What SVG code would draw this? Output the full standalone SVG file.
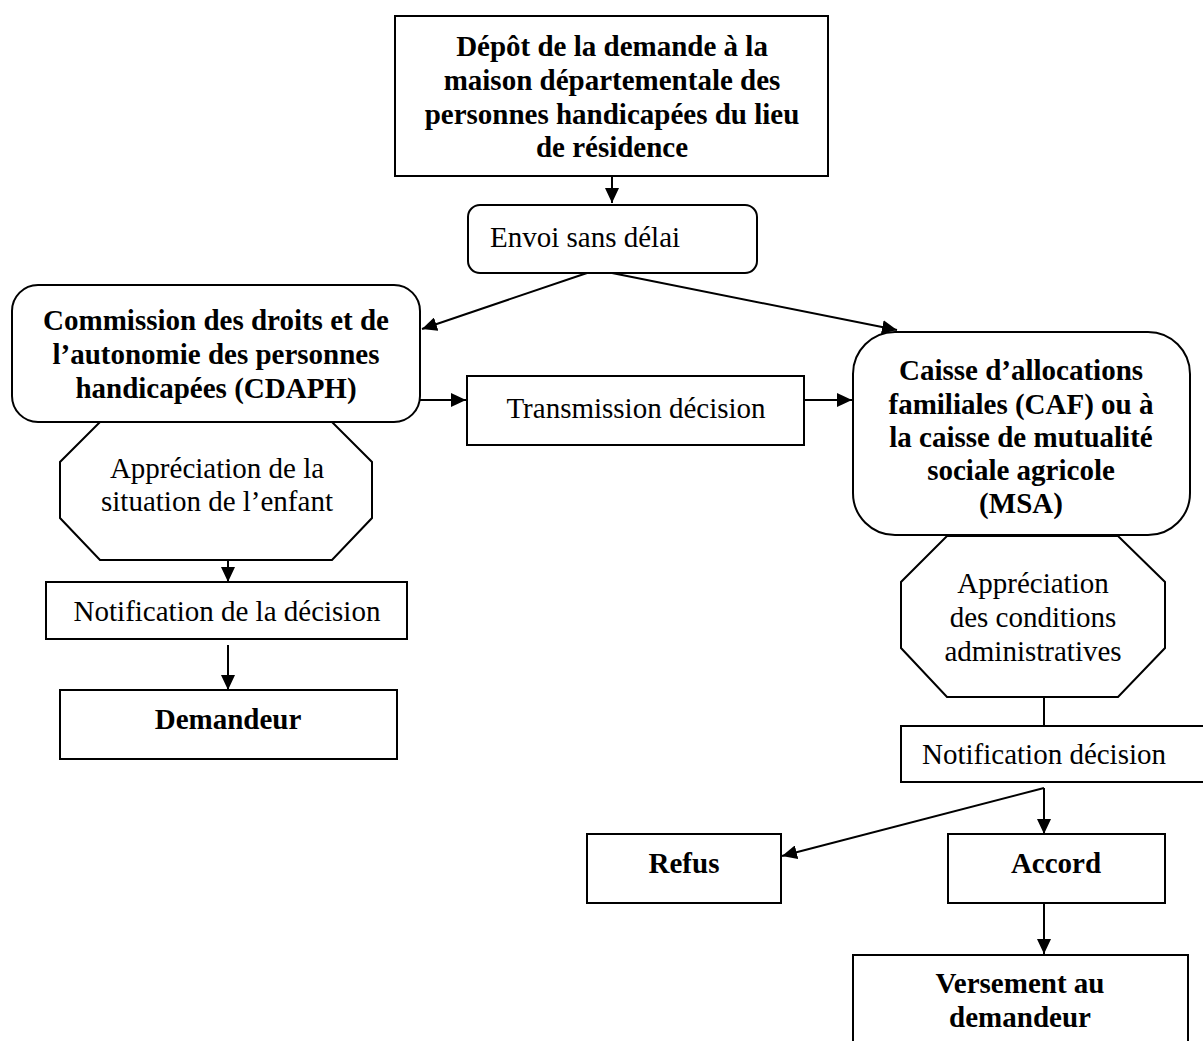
<svg xmlns="http://www.w3.org/2000/svg" width="1203" height="1041" viewBox="0 0 1203 1041">
<style>
.box{fill:#fff;stroke:#000;stroke-width:2}
.t{font-family:"Liberation Serif","Times New Roman",serif;font-size:29px;fill:#000;text-anchor:middle}
.b{font-weight:bold;font-size:29px}
.c{fill:none;stroke:#000;stroke-width:2}
</style>
<defs>
<marker id="ah" markerUnits="userSpaceOnUse" markerWidth="16" markerHeight="14" refX="15" refY="7" orient="auto">
<path d="M0,0 L15,7 L0,14 Z" fill="#000"/>
</marker>
</defs>
<rect width="1203" height="1041" fill="#fff"/>
<g id="connectors">
<line class="c" x1="612" y1="176" x2="612" y2="203" marker-end="url(#ah)"/>
<line class="c" x1="587" y1="273" x2="422" y2="329" marker-end="url(#ah)"/>
<line class="c" x1="612" y1="273" x2="897" y2="330" marker-end="url(#ah)"/>
<line class="c" x1="420" y1="400" x2="466" y2="400" marker-end="url(#ah)"/>
<line class="c" x1="804" y1="400" x2="852" y2="400" marker-end="url(#ah)"/>
<line class="c" x1="228" y1="560" x2="228" y2="582" marker-end="url(#ah)"/>
<line class="c" x1="228" y1="645" x2="228" y2="690" marker-end="url(#ah)"/>
<line class="c" x1="1044" y1="697" x2="1044" y2="726"/>
<line class="c" x1="1044" y1="788" x2="1044" y2="834" marker-end="url(#ah)"/>
<line class="c" x1="1044" y1="788" x2="782" y2="856" marker-end="url(#ah)"/>
<line class="c" x1="1044" y1="903" x2="1044" y2="954" marker-end="url(#ah)"/>
</g>
<g id="depot">
<rect class="box" x="395" y="16" width="433" height="160"/>
<text class="t b" x="612" y="56">Dépôt de la demande à la</text>
<text class="t b" x="612" y="90">maison départementale des</text>
<text class="t b" x="612" y="124">personnes handicapées du lieu</text>
<text class="t b" x="612" y="157">de résidence</text>
</g>
<g id="envoi">
<rect class="box" x="468" y="205" width="289" height="68" rx="12"/>
<text class="t" x="490" y="247" style="text-anchor:start">Envoi sans délai</text>
</g>
<g id="cdaph">
<rect class="box" x="12" y="285" width="408" height="137" rx="26"/>
<text class="t b" x="216" y="330">Commission des droits et de</text>
<text class="t b" x="216" y="364">l’autonomie des personnes</text>
<text class="t b" x="216" y="398">handicapées (CDAPH)</text>
</g>
<g id="transmission">
<rect class="box" x="467" y="376" width="337" height="69"/>
<text class="t" x="636" y="418">Transmission décision</text>
</g>
<g id="caf">
<rect class="box" x="853" y="332" width="337" height="203" rx="42"/>
<text class="t b" x="1021" y="380">Caisse d’allocations</text>
<text class="t b" x="1021" y="414">familiales (CAF) ou à</text>
<text class="t b" x="1021" y="447">la caisse de mutualité</text>
<text class="t b" x="1021" y="480">sociale agricole</text>
<text class="t b" x="1021" y="513">(MSA)</text>
</g>
<g id="appreciation-enfant">
<polygon class="box" points="100,422 332,422 372,462 372,518 332,560 100,560 60,518 60,462"/>
<text class="t" x="217" y="478">Appréciation de la</text>
<text class="t" x="217" y="511">situation de l’enfant</text>
</g>
<g id="notification-left">
<rect class="box" x="46" y="582" width="361" height="57"/>
<text class="t" x="227" y="621">Notification de la décision</text>
</g>
<g id="demandeur">
<rect class="box" x="60" y="690" width="337" height="69"/>
<text class="t b" x="228" y="729">Demandeur</text>
</g>
<g id="appreciation-admin">
<polygon class="box" points="947,536 1118,536 1165,582 1165,648 1118,697 947,697 901,648 901,582"/>
<text class="t" x="1033" y="593">Appréciation</text>
<text class="t" x="1033" y="627">des conditions</text>
<text class="t" x="1033" y="661">administratives</text>
</g>
<g id="notification-right">
<rect class="box" x="901" y="726" width="310" height="56"/>
<text class="t" x="922" y="764" style="text-anchor:start">Notification décision</text>
</g>
<g id="refus">
<rect class="box" x="587" y="834" width="194" height="69"/>
<text class="t b" x="684" y="873">Refus</text>
</g>
<g id="accord">
<rect class="box" x="948" y="834" width="217" height="69"/>
<text class="t b" x="1056" y="873">Accord</text>
</g>
<g id="versement">
<rect class="box" x="853" y="955" width="335" height="100"/>
<text class="t b" x="1020" y="993">Versement au</text>
<text class="t b" x="1020" y="1027">demandeur</text>
</g>
</svg>
